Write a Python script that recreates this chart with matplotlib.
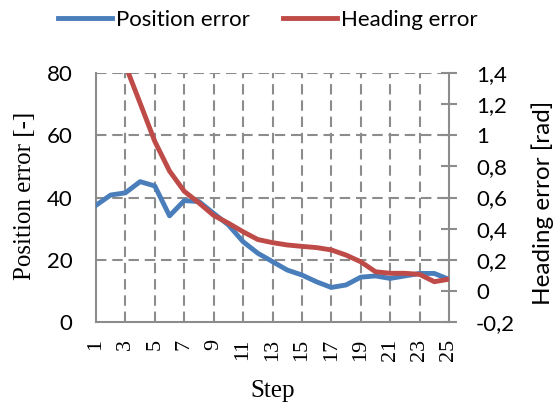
import numpy as np
import matplotlib
matplotlib.use("Agg")
import matplotlib.pyplot as plt

steps = list(range(1, 26))
position_error = [37.5, 40.8, 41.5, 45.1, 43.7, 34.1, 39.0, 38.7, 34.9, 31.2,
                  25.8, 22.1, 19.4, 16.7, 15.1, 12.9, 11.1, 11.9, 14.4, 14.8,
                  14.0, 14.8, 15.6, 15.6, 13.7]
heading_error = [np.nan, np.nan, 1.45, 1.206, 0.96, 0.77, 0.64, 0.565, 0.485, 0.435,
                 0.38, 0.33, 0.31, 0.295, 0.286, 0.278, 0.263, 0.23, 0.187, 0.123,
                 0.113, 0.113, 0.106, 0.059, 0.075]
x_tick_labels = [str(s) for s in range(1, 26, 2)]
left_ticks = [0, 20, 40, 60, 80]
right_ticks = [-0.2, 0, 0.2, 0.4, 0.6, 0.8, 1.0, 1.2, 1.4]
right_tick_labels = ['-0,2', '0', '0,2', '0,4', '0,6', '0,8', '1', '1,2', '1,4']

BLUE = '#4A7EBB'
RED = '#BE4B48'
GRID = '#8C8C8C'
SPINE = '#8C8C8C'
SANS = 'Lato'
SERIF = 'Liberation Serif'

fig = plt.figure(figsize=(5.55, 4.05), dpi=100)
ax = fig.add_axes([96/555, 1-322/405, (449-96)/555, (322-73)/405])
ax2 = ax.twinx()

ax.plot(steps, position_error, color=BLUE, lw=3.5, solid_joinstyle='round', label='Position error', zorder=3)
ax2.plot(steps, heading_error, color=RED, lw=3.5, solid_joinstyle='round', label='Heading error', zorder=3)

ax.set_xlim(1, 25)
ax.set_ylim(0, 80)
ax2.set_ylim(-0.2, 1.4)

# grid
for yv in left_ticks[1:]:
    ax.axhline(yv, color=GRID, lw=1.5, ls=(0, (5, 2.8)), zorder=1)
for xv in range(3, 25, 2):
    ax.axvline(xv, color=GRID, lw=1.5, ls=(0, (5, 2.8)), zorder=1)

for a in (ax, ax2):
    a.spines['top'].set_visible(False)
    for s in ('left', 'bottom', 'right'):
        a.spines[s].set_color(SPINE)
        a.spines[s].set_linewidth(1.5)
ax.spines['right'].set_visible(False)
ax2.spines['left'].set_visible(False)
ax2.spines['bottom'].set_visible(False)

ax.set_xticks(list(range(1, 26, 2)))
ax.set_xticklabels(x_tick_labels, rotation=90, fontfamily=SERIF, fontsize=16)
ax.tick_params(axis='x', length=0, pad=12)

ax.set_yticks(left_ticks)
ax.set_yticklabels([str(v) for v in left_ticks], fontfamily=SANS, fontsize=16)
ax.tick_params(axis='y', length=0, pad=17)

ax2.set_yticks(right_ticks)
ax2.set_yticklabels(right_tick_labels, fontfamily=SANS, fontsize=16)
ax2.tick_params(axis='y', direction='inout', length=11, width=1.5, color=SPINE, pad=14)

fig.text(25/555, 1-196/405, 'Position error [-]', rotation=90, ha='center', va='center',
         fontfamily=SERIF, fontsize=18)
fig.text(543/555, 1-203/405, 'Heading error [rad]', rotation=90, ha='center', va='center',
         fontfamily=SANS, fontsize=17.5)
fig.text(273/555, 1-391/405, 'Step', ha='center', va='center', fontfamily=SERIF, fontsize=18)

h1, l1 = ax.get_legend_handles_labels()
h2, l2 = ax2.get_legend_handles_labels()
fig.legend(h1 + h2, l1 + l2, loc='center', bbox_to_anchor=(268/555, 1-20/405), ncol=2,
           frameon=False, prop={'family': SANS, 'size': 16}, handlelength=2.4,
           handletextpad=0.2, columnspacing=1.5, borderaxespad=0)

fig.savefig('out.png', dpi=100)
